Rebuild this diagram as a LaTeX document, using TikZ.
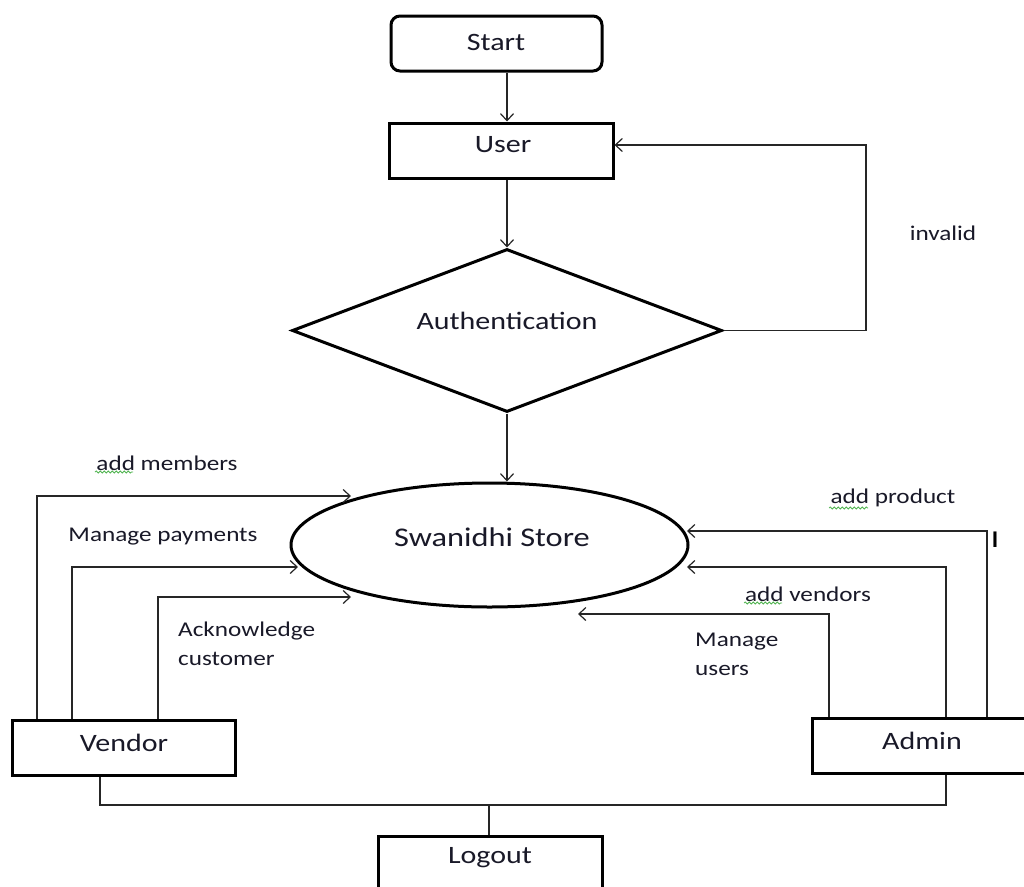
\documentclass[tikz,border=0pt]{standalone}
\usepackage{fontspec}
\setmainfont{Carlito}
\usetikzlibrary{shapes.geometric,arrows.meta,decorations.pathmorphing}
\newcommand{\mystr}[1]{\scalebox{1.2}[1]{#1}}
\definecolor{txtc}{RGB}{25,25,40}
\definecolor{spellg}{RGB}{80,180,80}
\begin{document}
\begin{tikzpicture}[x=1pt,y=-1pt,
  blk/.style={draw=black, line width=3pt, inner sep=0pt, text=txtc, font=\fontsize{25}{28}\selectfont},
  conn/.style={draw=black!85, line width=1.3pt},
  arr/.style={conn, -{Straight Barb[length=7pt,width=13pt,line width=1.2pt]}},
  lbl/.style={text=txtc, font=\fontsize{21}{26}\selectfont, inner sep=0pt},
  spell/.style={draw=spellg, line width=0.8pt, decorate, decoration={snake, amplitude=1pt, segment length=4pt}}
]
\useasboundingbox (0,0) rectangle (1024,886);
\fill[white] (0,0) rectangle (1024,886);

% nodes
\node[blk, rounded corners=9pt, minimum width=211pt, minimum height=55pt] (start) at (496.5,43.5) {};
\node[text=txtc, font=\fontsize{25}{28}\selectfont] (starttxt) at (496,42) {\mystr{Start}};
\node[blk, minimum width=224pt, minimum height=55pt] (user) at (501,150.5) {};
\node[text=txtc, font=\fontsize{25}{28}\selectfont] (usertxt) at (503,145) {\mystr{User}};
\node[blk, diamond, minimum width=430pt, minimum height=163pt] (auth) at (507,330.5) {};
\node[text=txtc, font=\fontsize{25}{28}\selectfont] (authtxt) at (507,321) {\mystr{Authentication}};
\node[blk, ellipse, minimum width=397pt, minimum height=124pt] (store) at (489.5,545) {};
\node[text=txtc, font=\fontsize{27}{30}\selectfont] (storetxt) at (492,537) {\mystr{Swanidhi Store}};
\node[blk, minimum width=223pt, minimum height=55pt] (vendor) at (123.5,747.5) {};
\node[text=txtc, font=\fontsize{25}{28}\selectfont] (vendortxt) at (124,743) {\mystr{Vendor}};
\node[blk, minimum width=230pt, minimum height=55pt] (admin) at (927,745.5) {};
\node[text=txtc, font=\fontsize{25}{28}\selectfont] (admintxt) at (922,741) {\mystr{Admin}};
\node[blk, minimum width=224pt, minimum height=64pt] (logout) at (490,868) {};
\node[text=txtc, font=\fontsize{25}{28}\selectfont] (logouttxt) at (490,858) {\mystr{Logout}};

% top flow
\draw[arr] (start.south -| auth.north) -- (user.north -| auth.north);
\draw[arr] (user.south -| auth.north) -- (auth.north);
\draw[arr] (auth.south) -- (auth.south |- store.north);
\coordinate (fb) at (866,145);
\draw[arr] (auth.east) -| (fb) -- (user.east |- fb);

% vendor connectors
\coordinate (vm) at (351,496);
\coordinate (vp) at (298,567);
\coordinate (va) at (351,597);
\draw[arr] (vendor.north -| 37,0) |- (vm);
\draw[arr] (vendor.north -| 72,0) |- (vp);
\draw[arr] (vendor.north -| 158,0) |- (va);

% admin connectors
\coordinate (ap) at (687,531);
\coordinate (av) at (687,567);
\coordinate (au) at (578,614);
\draw[arr] (admin.north -| 987,0) |- (ap);
\draw[arr] (admin.north -| 946,0) |- (av);
\draw[arr] (admin.north -| 829,0) |- (au);

% bottom
\coordinate (jn) at (489,805);
\draw[conn] (vendor.south -| 100,0) |- (jn) -| (admin.south -| 946,0);
\draw[conn] (jn) -- (logout.north -| jn);

% labels
\node[lbl] (linv) at (943,233) {\mystr{invalid}};
\node[lbl] (lmem) at (167,463) {\mystr{add members}};
\node[lbl] (lpay) at (163,537) {\mystr{Manage payments}};
\node[lbl, anchor=west] (lack1) at (178,631) {\mystr{Acknowledge}};
\node[lbl, anchor=west] (lack2) at (178,659) {\mystr{customer}};
\node[lbl] (lprod) at (893,498) {\mystr{add product}};
\node[lbl] (lven) at (808,594) {\mystr{add vendors}};
\node[lbl, anchor=west] (lusr1) at (695,642) {\mystr{Manage}};
\node[lbl, anchor=west] (lusr2) at (695,670) {\mystr{users}};
\node[text=black, font=\bfseries\fontsize{24}{26}\selectfont, inner sep=0pt] (cursor) at (995,540) {I};

% spell-check underlines
\draw[spell] (95,472) -- (133,472);
\draw[spell] (829,508) -- (868,508);
\draw[spell] (744,603) -- (782,603);
\end{tikzpicture}
\end{document}
